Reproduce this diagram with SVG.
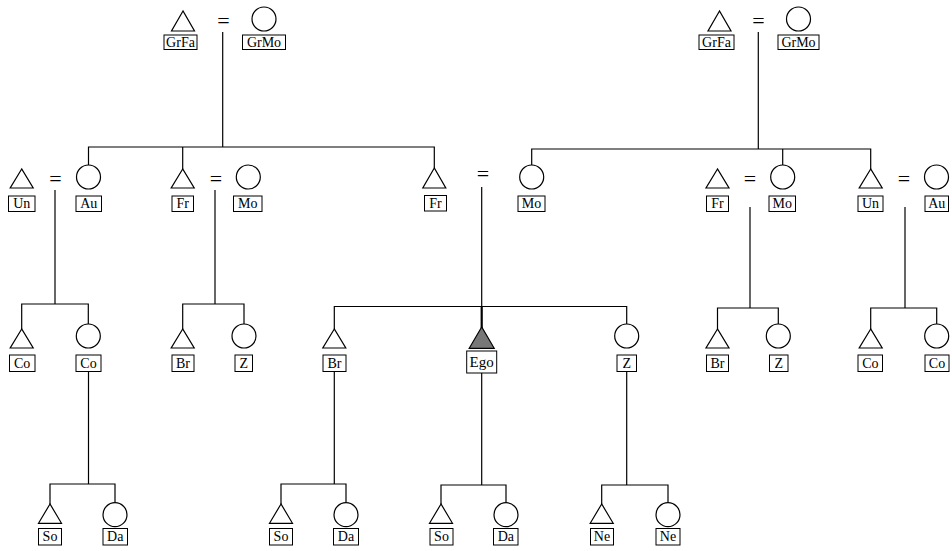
<svg xmlns="http://www.w3.org/2000/svg" width="952" height="551" viewBox="0 0 952 551">
<style>
.ln{stroke:#000;stroke-width:1.2;fill:none}
.sh{fill:#fff;stroke:#000;stroke-width:1.2}
.ego{fill:#777;stroke:#000;stroke-width:1.2}
.bx{fill:#fff;stroke:#000;stroke-width:1}
.t{font-family:"Liberation Serif","DejaVu Serif",serif;font-size:14px;fill:#000;text-anchor:middle}
.eq{font-family:"Liberation Serif","DejaVu Serif",serif;font-size:22px;fill:#000;text-anchor:middle}
</style>
<rect width="952" height="551" fill="#fff"/>
<g id="connectors">
<line class="ln" x1="222.7" y1="32" x2="222.7" y2="147"/>
<line class="ln" x1="758.3" y1="32" x2="758.3" y2="149"/>
<polyline class="ln" points="88.5,165 88.5,147 434.3,147 434.3,168"/>
<line class="ln" x1="182.7" y1="147" x2="182.7" y2="169"/>
<polyline class="ln" points="531.7,165 531.7,149 870.7,149 870.7,169"/>
<line class="ln" x1="782.7" y1="149" x2="782.7" y2="165"/>
<line class="ln" x1="55" y1="190" x2="55" y2="304"/>
<line class="ln" x1="215" y1="190" x2="215" y2="304"/>
<line class="ln" x1="481.7" y1="187" x2="481.7" y2="306.5"/>
<line class="ln" x1="750" y1="207" x2="750" y2="308"/>
<line class="ln" x1="905" y1="207" x2="905" y2="308"/>
<polyline class="ln" points="21.7,329 21.7,304 88.3,304 88.3,324"/>
<polyline class="ln" points="182.7,329 182.7,304 244,304 244,324"/>
<polyline class="ln" points="334.3,329 334.3,306.5 626.7,306.5 626.7,324"/>
<line x1="481.7" y1="306.5" x2="481.7" y2="328" stroke="#000" stroke-width="2.2"/>
<polyline class="ln" points="717.5,329 717.5,308 778.3,308 778.3,324"/>
<polyline class="ln" points="870.7,329 870.7,308 936.7,308 936.7,324"/>
<line class="ln" x1="88.5" y1="372" x2="88.5" y2="484"/>
<line class="ln" x1="334.3" y1="372" x2="334.3" y2="484"/>
<line class="ln" x1="481.7" y1="373" x2="481.7" y2="485"/>
<line class="ln" x1="626.7" y1="372" x2="626.7" y2="485"/>
<polyline class="ln" points="50,504 50,484 115,484 115,502.7"/>
<polyline class="ln" points="281,504 281,484 346,484 346,502.7"/>
<polyline class="ln" points="441,504 441,485 506,485 506,502.7"/>
<polyline class="ln" points="601.7,504 601.7,485 668,485 668,502.7"/>
</g>

<g id="marriages">
<text class="eq" x="223.5" y="28">=</text>
<text class="eq" x="758.5" y="28">=</text>
<text class="eq" x="55.5" y="186">=</text>
<text class="eq" x="216" y="186">=</text>
<text class="eq" x="483" y="181">=</text>
<text class="eq" x="750" y="186">=</text>
<text class="eq" x="904" y="186">=</text>
</g>

<g id="grfa1"><polygon class="sh" points="183,11 171.5,31 194.5,31"/><rect class="bx" x="164" y="35" width="33" height="14.5"/><text class="t" x="180.5" y="46.5">GrFa</text></g>
<g id="grmo1"><circle class="sh" cx="264" cy="19" r="12"/><rect class="bx" x="242.5" y="35" width="43" height="14.5"/><text class="t" x="264" y="46.5">GrMo</text></g>
<g id="grfa2"><polygon class="sh" points="719.5,11 708,31 731,31"/><rect class="bx" x="699" y="35" width="35" height="14.5"/><text class="t" x="716.5" y="46.5">GrFa</text></g>
<g id="grmo2"><circle class="sh" cx="798.5" cy="19" r="12"/><rect class="bx" x="778" y="35" width="41" height="14.5"/><text class="t" x="798.5" y="46.5">GrMo</text></g>

<g id="un1"><polygon class="sh" points="21.7,169 10.2,188 33.2,188"/><rect class="bx" x="8.5" y="196" width="26.5" height="15.5"/><text class="t" x="21.7" y="208">Un</text></g>
<g id="au1"><circle class="sh" cx="88.5" cy="177" r="12"/><rect class="bx" x="76" y="196" width="25.5" height="15.5"/><text class="t" x="88.7" y="208">Au</text></g>
<g id="fr1"><polygon class="sh" points="182.7,169 171.2,188 194.2,188"/><rect class="bx" x="172" y="196" width="21.5" height="15.5"/><text class="t" x="182.7" y="208">Fr</text></g>
<g id="mo1"><circle class="sh" cx="248.3" cy="177" r="12"/><rect class="bx" x="233.5" y="196" width="28.5" height="15.5"/><text class="t" x="247.8" y="208">Mo</text></g>
<g id="fr2"><polygon class="sh" points="434.3,168 422.8,188 445.8,188"/><rect class="bx" x="424.5" y="195.5" width="22" height="15.5"/><text class="t" x="435.5" y="207.5">Fr</text></g>
<g id="mo2"><circle class="sh" cx="531.7" cy="177" r="12"/><rect class="bx" x="518" y="196" width="27" height="15.5"/><text class="t" x="531.5" y="208">Mo</text></g>
<g id="fr3"><polygon class="sh" points="717.5,169 706,188 729,188"/><rect class="bx" x="706.5" y="196" width="22" height="15.5"/><text class="t" x="717.5" y="208">Fr</text></g>
<g id="mo3"><circle class="sh" cx="782.7" cy="177" r="12"/><rect class="bx" x="769" y="196" width="26.5" height="15.5"/><text class="t" x="782.2" y="208">Mo</text></g>
<g id="un2"><polygon class="sh" points="870.7,169 859.2,188 882.2,188"/><rect class="bx" x="858" y="196" width="25" height="15.5"/><text class="t" x="870.5" y="208">Un</text></g>
<g id="au2"><circle class="sh" cx="936.5" cy="177" r="12"/><rect class="bx" x="925" y="196" width="23.5" height="15.5"/><text class="t" x="936.7" y="208">Au</text></g>

<g id="co1"><polygon class="sh" points="21.7,329 10.2,348 33.2,348"/><rect class="bx" x="9.5" y="355" width="25.5" height="16.5"/><text class="t" x="22.2" y="367.5">Co</text></g>
<g id="co2"><circle class="sh" cx="88.3" cy="336" r="12"/><rect class="bx" x="76" y="355" width="25" height="16.5"/><text class="t" x="88.5" y="367.5">Co</text></g>
<g id="br1"><polygon class="sh" points="182.7,329 171.2,348 194.2,348"/><rect class="bx" x="172" y="355" width="22" height="16.5"/><text class="t" x="183" y="367.5">Br</text></g>
<g id="z1"><circle class="sh" cx="244" cy="336" r="12"/><rect class="bx" x="235" y="355" width="17.5" height="16.5"/><text class="t" x="243.8" y="367.5">Z</text></g>
<g id="br2"><polygon class="sh" points="334.3,329 322.8,348 345.8,348"/><rect class="bx" x="323" y="355" width="23" height="16.5"/><text class="t" x="334.5" y="367.5">Br</text></g>
<g id="ego"><polygon class="ego" points="481.7,327 469.2,348.3 494.2,348.3"/><rect class="bx" x="466.7" y="351" width="30" height="22"/><text class="t" x="481.7" y="366.5" style="font-size:15px">Ego</text></g>
<g id="z2"><circle class="sh" cx="626.7" cy="336" r="12"/><rect class="bx" x="617" y="355" width="19.5" height="16.5"/><text class="t" x="626.8" y="367.5">Z</text></g>
<g id="br3"><polygon class="sh" points="717.5,329 706,348 729,348"/><rect class="bx" x="706.5" y="355" width="22" height="16.5"/><text class="t" x="717.5" y="367.5">Br</text></g>
<g id="z3"><circle class="sh" cx="778.3" cy="336" r="12"/><rect class="bx" x="769.5" y="355" width="18.5" height="16.5"/><text class="t" x="778.7" y="367.5">Z</text></g>
<g id="co3"><polygon class="sh" points="870.7,329 859.2,348 882.2,348"/><rect class="bx" x="858" y="355" width="24.5" height="16.5"/><text class="t" x="870.3" y="367.5">Co</text></g>
<g id="co4"><circle class="sh" cx="936.7" cy="336" r="12"/><rect class="bx" x="925" y="355" width="24" height="16.5"/><text class="t" x="937" y="367.5">Co</text></g>

<g id="so1"><polygon class="sh" points="50,504 38.5,523.3 61.5,523.3"/><rect class="bx" x="38.5" y="528.5" width="23" height="16.5"/><text class="t" x="50" y="541">So</text></g>
<g id="da1"><circle class="sh" cx="115" cy="514.7" r="12"/><rect class="bx" x="103" y="528.5" width="24.5" height="16.5"/><text class="t" x="115.2" y="541">Da</text></g>
<g id="so2"><polygon class="sh" points="281,504 269.5,523.3 292.5,523.3"/><rect class="bx" x="269.5" y="528.5" width="23" height="16.5"/><text class="t" x="281" y="541">So</text></g>
<g id="da2"><circle class="sh" cx="346" cy="514.7" r="12"/><rect class="bx" x="333.5" y="528.5" width="25" height="16.5"/><text class="t" x="346" y="541">Da</text></g>
<g id="so3"><polygon class="sh" points="441,504 429.5,523.3 452.5,523.3"/><rect class="bx" x="430" y="528.5" width="23" height="16.5"/><text class="t" x="441.5" y="541">So</text></g>
<g id="da3"><circle class="sh" cx="506" cy="514.7" r="12"/><rect class="bx" x="493.5" y="528.5" width="24.5" height="16.5"/><text class="t" x="505.8" y="541">Da</text></g>
<g id="ne1"><polygon class="sh" points="601.7,504 590.2,523.3 613.2,523.3"/><rect class="bx" x="590.5" y="528.5" width="23" height="16.5"/><text class="t" x="602" y="541">Ne</text></g>
<g id="ne2"><circle class="sh" cx="668" cy="514.7" r="12"/><rect class="bx" x="656" y="528.5" width="24" height="16.5"/><text class="t" x="668" y="541">Ne</text></g>
</svg>
